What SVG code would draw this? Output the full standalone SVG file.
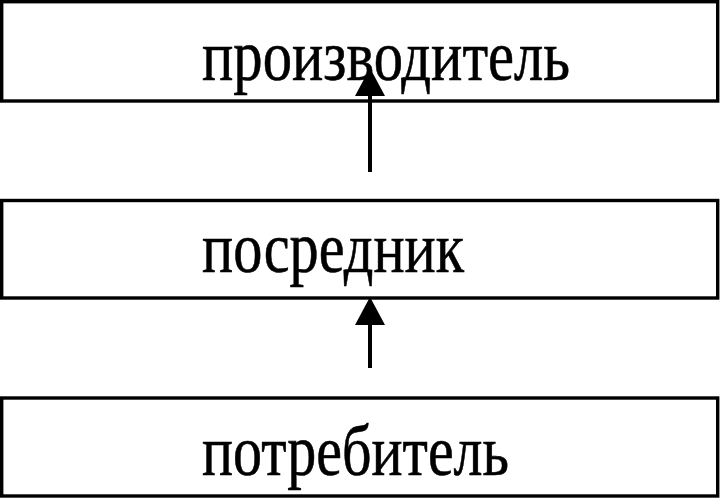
<svg xmlns="http://www.w3.org/2000/svg" width="720" height="498" viewBox="0 0 720 498">
<style>
.box{fill:#fff;stroke:#000;stroke-width:3.4}
.lbl{font-family:"Liberation Serif","Times New Roman",serif;font-size:71px;fill:#000;stroke:#000;stroke-width:0.6}
.conn{stroke:#000;stroke-width:4;fill:none}
.head{fill:#000}
</style>
<rect width="720" height="498" fill="#fff"/>
<g id="node-producer">
<rect class="box" x="1.7" y="1.7" width="716" height="99.3"/>
<text class="lbl" x="202" y="80" textLength="368" lengthAdjust="spacingAndGlyphs">производитель</text>
</g>
<g id="node-intermediary">
<rect class="box" x="1.7" y="200.5" width="716" height="97.5"/>
<text class="lbl" x="202" y="272" textLength="262" lengthAdjust="spacingAndGlyphs">посредник</text>
</g>
<g id="node-consumer">
<rect class="box" x="1.7" y="398" width="716" height="98"/>
<text class="lbl" x="202" y="475" textLength="307" lengthAdjust="spacingAndGlyphs">потребитель</text>
</g>
<g id="connectors">
<line class="conn" x1="370" y1="172" x2="370" y2="94"/>
<polygon class="head" points="370,68 385,96 355,96"/>
<line class="conn" x1="370" y1="368" x2="370" y2="322"/>
<polygon class="head" points="370,297 385,325 355,325"/>
</g>
</svg>
